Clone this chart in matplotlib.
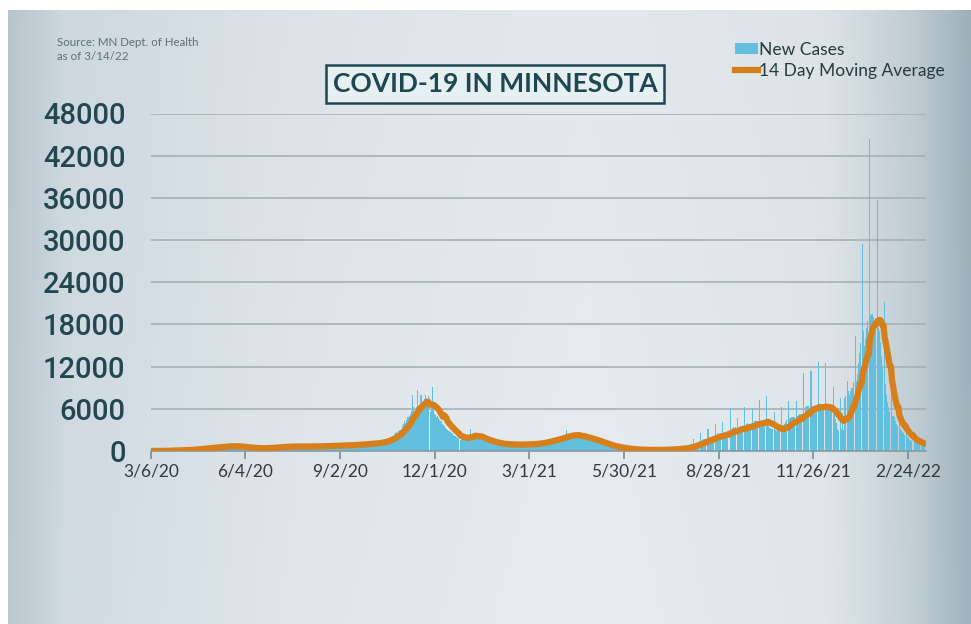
import numpy as np
import pandas as pd
import matplotlib.pyplot as plt
from matplotlib.lines import Line2D
from matplotlib.patches import Patch

plt.rcParams['font.family'] = ['Lato', 'DejaVu Sans']

# --------------------------------------------
# Data: daily new cases, one row per week, starting 3/6/20
# --------------------------------------------
start_date = '2020-03-06'
new_cases_weeks = [
    [1, 1, 2, 3, 5, 7, 10],
    [14, 21, 25, 30, 35, 45, 50],
    [50, 55, 60, 70, 75, 80, 85],
    [80, 90, 95, 100, 110, 105, 120],
    [120, 130, 135, 150, 140, 145, 160],
    [150, 170, 200, 220, 210, 240, 260],
    [280, 300, 310, 330, 340, 320, 360],
    [380, 400, 420, 450, 440, 430, 480],
    [500, 510, 540, 520, 560, 530, 550],
    [580, 600, 650, 620, 660, 640, 610],
    [690, 720, 680, 740, 700, 660, 710],
    [720, 680, 640, 650, 620, 600, 640],
    [590, 560, 540, 520, 530, 500, 540],
    [480, 450, 420, 400, 390, 420, 380],
    [360, 380, 400, 370, 410, 390, 420],
    [380, 400, 430, 450, 420, 440, 470],
    [450, 480, 500, 520, 540, 530, 560],
    [560, 580, 600, 590, 620, 580, 610],
    [620, 640, 610, 650, 630, 600, 660],
    [640, 660, 630, 670, 650, 640, 660],
    [650, 630, 670, 640, 660, 650, 640],
    [660, 640, 650, 670, 630, 650, 660],
    [640, 680, 660, 690, 650, 670, 660],
    [690, 720, 680, 710, 700, 690, 720],
    [720, 750, 730, 760, 740, 720, 760],
    [750, 780, 760, 790, 770, 750, 790],
    [780, 820, 800, 840, 810, 790, 830],
    [850, 880, 870, 900, 890, 860, 910],
    [920, 960, 940, 980, 950, 930, 970],
    [1000, 1050, 1020, 1070, 1040, 1010, 1080],
    [1100, 1150, 1120, 1180, 1140, 1110, 1180],
    [1250, 1300, 1350, 1400, 1420, 1380, 1500],
    [1600, 1700, 1800, 1900, 1850, 2000, 2100],
    [2200, 2400, 2500, 2700, 2600, 2800, 3000],
    [3200, 3500, 3800, 4300, 4000, 4400, 4800],
    [4800, 5000, 5300, 5700, 8000, 6200, 5400],
    [5800, 6300, 8700, 6400, 6600, 8000, 5900],
    [6800, 7400, 7900, 7600, 7200, 7800, 0],
    [5600, 6000, 9100, 5800, 5300, 5100, 4900],
    [5000, 4700, 4400, 4200, 3900, 3700, 3500],
    [3300, 3200, 3000, 2900, 2800, 2700, 2600],
    [2500, 2300, 2200, 2100, 2000, 1900, 1900],
    [0, 1600, 2000, 2200, 2100, 1900, 2000],
    [2100, 2300, 2000, 3200, 2200, 2100, 2400],
    [1900, 2000, 1800, 1700, 1900, 1800, 1700],
    [1600, 1500, 1450, 1400, 1550, 1450, 1400],
    [1250, 1200, 1150, 1100, 1150, 1100, 1050],
    [1050, 1000, 950, 1000, 980, 960, 1020],
    [930, 900, 920, 940, 910, 890, 950],
    [880, 900, 910, 890, 920, 900, 880],
    [920, 950, 940, 960, 970, 930, 960],
    [960, 990, 980, 1000, 970, 960, 990],
    [1000, 1050, 1100, 1120, 1080, 1150, 1200],
    [1200, 1250, 1300, 1350, 1330, 1400, 1420],
    [1450, 1500, 1550, 1650, 1600, 1700, 1750],
    [1750, 1800, 1850, 1900, 1800, 1950, 1900],
    [2000, 2100, 2200, 3000, 2300, 2100, 2200],
    [2300, 2400, 2200, 2300, 2100, 2200, 2250],
    [2100, 2000, 2050, 1950, 2000, 1900, 1950],
    [1800, 1750, 1700, 1650, 1700, 1600, 1650],
    [1450, 1400, 1350, 1300, 1350, 1250, 1300],
    [1100, 1050, 950, 900, 900, 850, 850],
    [750, 700, 680, 650, 620, 600, 580],
    [520, 500, 470, 450, 430, 410, 400],
    [370, 340, 320, 300, 290, 270, 260],
    [240, 230, 210, 200, 190, 180, 190],
    [180, 170, 160, 170, 160, 150, 170],
    [150, 140, 160, 150, 140, 150, 160],
    [150, 160, 140, 150, 150, 160, 140],
    [170, 180, 160, 190, 180, 170, 200],
    [200, 220, 240, 250, 230, 260, 280],
    [280, 300, 310, 330, 320, 340, 360],
    [380, 400, 420, 430, 410, 440, 470],
    [740, 770, 750, 760, 0, 1700, 740],
    [1140, 1180, 1160, 1170, 0, 2600, 1150],
    [1620, 1660, 1640, 1650, 0, 3200, 1640],
    [2000, 2060, 2040, 2060, 0, 3800, 2040],
    [2450, 2500, 2480, 2500, 0, 4170, 2490],
    [2530, 2590, 2560, 2580, 0, 6070, 2570],
    [3300, 3360, 3340, 3370, 0, 4650, 3330],
    [3450, 3520, 3490, 3510, 0, 6200, 3490],
    [3850, 3920, 3900, 3910, 0, 6070, 3900],
    [4250, 4320, 4290, 4300, 0, 7250, 4290],
    [4260, 4340, 4300, 4320, 0, 7870, 4310],
    [3500, 3300, 3200, 3100, 0, 5600, 3000],
    [2900, 3000, 3050, 3150, 0, 6300, 3300],
    [3700, 3900, 4150, 4400, 0, 7150, 4700],
    [4800, 4850, 4870, 4900, 0, 7150, 4930],
    [5100, 5200, 5220, 5250, 0, 11050, 5280],
    [6300, 6400, 6450, 6450, 0, 11400, 6400],
    [6250, 6350, 6300, 6300, 0, 12600, 6300],
    [6300, 6250, 6350, 6300, 0, 12500, 6400],
    [6000, 5950, 5900, 5800, 0, 9100, 5750],
    [4500, 4000, 3200, 2800, 0, 7500, 3200],
    [5200, 3000, 7500, 7800, 0, 9900, 8600],
    [8000, 8500, 9000, 9800, 0, 16300, 10000],
    [11000, 12500, 14000, 15400, 0, 29500, 17000],
    [15000, 16000, 17500, 18500, 0, 44400, 19400],
    [19500, 19000, 18500, 18000, 0, 35700, 17500],
    [17000, 15500, 13500, 12000, 0, 21200, 9500],
    [8000, 7000, 6200, 5500, 0, 9000, 5000],
    [4800, 4300, 3900, 3500, 0, 6000, 3200],
    [3000, 2700, 2500, 2300, 0, 3500, 2000],
    [1800, 1600, 1500, 1400, 0, 2200, 1300],
    [1200, 1100, 1000, 950, 0, 1500, 900],
    [850, 800],
]
new_cases = [v for week in new_cases_weeks for v in week]

xtick_labels = ['3/6/20', '6/4/20', '9/2/20', '12/1/20', '3/1/21',
                '5/30/21', '8/28/21', '11/26/21', '2/24/22']
ytick_values = [0, 6000, 12000, 18000, 24000, 30000, 36000, 42000, 48000]

dates = pd.date_range(start_date, periods=len(new_cases), freq='D')
cases = pd.Series(new_cases, index=dates)
avg14 = cases.rolling(14, min_periods=1).mean()

# --------------------------------------------
# Figure and background
# --------------------------------------------
fig = plt.figure(figsize=(9.71, 6.24), dpi=100, facecolor='white')

bg = fig.add_axes([8 / 971, 0, 1 - 8 / 971, 614 / 624], zorder=0)
xs = np.linspace(0, 1, 400)
stops = [0, 0.06, 0.3, 0.6, 0.85, 0.94, 1.0]
r = np.interp(xs, stops, [186, 208, 224, 230, 224, 194, 160])
g = np.interp(xs, stops, [200, 219, 231, 236, 231, 207, 178])
b = np.interp(xs, stops, [208, 226, 236, 239, 235, 214, 188])
row = np.stack([r, g, b], axis=1) / 255
shade = np.linspace(0.985, 1.0, 200)[:, None, None]
grad = np.clip(row[None, :, :] * shade, 0, 1)
bg.imshow(grad, aspect='auto', extent=[0, 1, 0, 1])
bg.axis('off')

ax = fig.add_axes([150.5 / 971, (624 - 451) / 624, (925.6 - 150.5) / 971, (451 - 113.5) / 624], zorder=1)
ax.patch.set_alpha(0)

ax.bar(dates, cases.values, width=1.0, color='#62c0de', linewidth=0, zorder=2)
ax.plot(dates, avg14.values, color='#d7801b', lw=4.5, solid_capstyle='round', zorder=3)

ax.set_ylim(0, 48000)
ax.set_yticks(ytick_values)
ax.set_yticklabels([str(v) for v in ytick_values])
ax.set_xlim(pd.Timestamp(start_date) - pd.Timedelta(hours=8), pd.Timestamp(start_date) + pd.Timedelta(days=737))
ax.set_xticks(pd.to_datetime(xtick_labels, format='%m/%d/%y'))
ax.set_xticklabels(xtick_labels)

for side in ['top', 'right', 'left']:
    ax.spines[side].set_visible(False)
ax.spines['bottom'].set_color('#8d999f')
ax.spines['bottom'].set_linewidth(1.2)

ax.yaxis.grid(True, color='#a6b1b6', lw=1.2)
ax.set_axisbelow(True)
ax.tick_params(axis='y', length=0, pad=18, labelsize=21, labelcolor='#24474f')
ax.tick_params(axis='x', length=6, width=1.2, color='#7d8a90', pad=3, labelsize=12.5, labelcolor='#333b3e')
for lbl in ax.get_yticklabels():
    lbl.set_family(['Roboto', 'DejaVu Sans'])
    lbl.set_fontweight('medium')

# --------------------------------------------
# Texts
# --------------------------------------------
fig.text(495 / 971, 1 - 84 / 624, 'COVID-19 IN MINNESOTA', ha='center', va='center',
         fontsize=19, fontweight='bold', color='#1e4750',
         bbox=dict(boxstyle='square,pad=0.25', fc='#e6eff2', ec='#1e4750', lw=1.8))

fig.text(57 / 971, 1 - 43 / 624, 'Source: MN Dept. of Health', fontsize=8.3, color='#5f6e75', va='center')
fig.text(57 / 971, 1 - 57 / 624, 'as of 3/14/22', fontsize=8.3, color='#5f6e75', va='center')

handles = [Patch(fc='#62c0de', ec='none'), Line2D([], [], color='#d7801b', lw=4.5)]
fig.legend(handles=handles, labels=['New Cases', '14 Day Moving Average'],
           loc='upper left', bbox_to_anchor=(728 / 971, 1 - 35 / 624), frameon=False,
           fontsize=12.5, handlelength=1.3, handleheight=0.6, handletextpad=0.1,
           labelspacing=0.3, labelcolor='#263a40', borderaxespad=0)

fig.savefig('out.png', dpi=100)
